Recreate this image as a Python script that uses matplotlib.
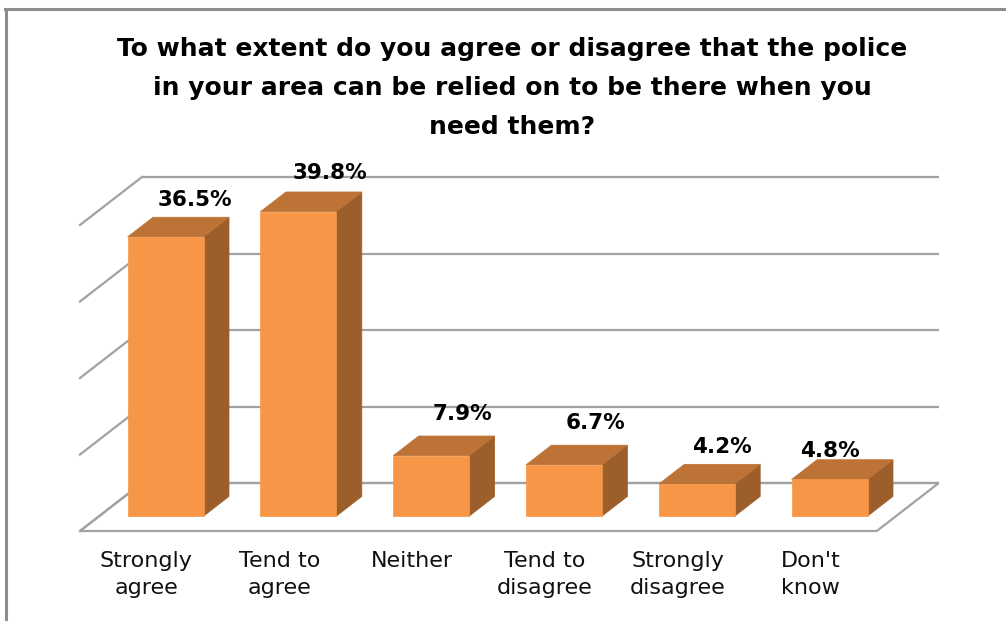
import matplotlib
matplotlib.use("Agg")
import matplotlib.pyplot as plt
from matplotlib.patches import Polygon
from matplotlib.lines import Line2D

# ---------------- data ----------------
categories = ["Strongly\nagree", "Tend to\nagree", "Neither",
              "Tend to\ndisagree", "Strongly\ndisagree", "Don't\nknow"]
values = [36.5, 39.8, 7.9, 6.7, 4.2, 4.8]
value_labels = ["36.5%", "39.8%", "7.9%", "6.7%", "4.2%", "4.8%"]
y_ticks = [0, 10, 20, 30, 40]
title = ("To what extent do you agree or disagree that the police\n"
         "in your area can be relied on to be there when you\n"
         "need them?")

# ---------------- layout ----------------
W, H = 1006, 621
PX_PER_CAT = 132.8      # horizontal pixels per category slot
PX_PER_PCT = 7.65       # vertical pixels per percentage point
X0_PX, Y0_PX = 80, 531  # front-left corner of floor (pixels from top-left)
DEPTH_DX_PX, DEPTH_DY_PX = 62, 48
BAR_W = 0.572
Z_FRONT, Z_BACK = 0.31, 0.72
# label nudges (px) relative to default spot above the bar's back-top edge
label_nudge = [(0, 0), (2, 1), (2, 5), (2, 5), (-4, 0), (-29, -9)]

FRONT_C = "#F79646"
TOP_C = "#BD7236"
SIDE_C = "#9C5E2B"
GRID_C = "#A2A2A2"

fig = plt.figure(figsize=(W / 100, H / 100), dpi=100)
ax = fig.add_axes([0, 0, 1, 1])
ax.set_xlim(-0.5 - X0_PX / PX_PER_CAT, -0.5 + (W - X0_PX) / PX_PER_CAT)
ax.set_ylim((Y0_PX - H) / PX_PER_PCT, Y0_PX / PX_PER_PCT)
ax.axis("off")

DX = DEPTH_DX_PX / PX_PER_CAT
DY = DEPTH_DY_PX / PX_PER_PCT
n = len(categories)
xmin, xmax = -0.5, n - 0.5


def proj(x, y, z):
    return (x + z * DX, y + z * DY)


# gridlines: back wall and left wall
for t in y_ticks:
    p0, p1 = proj(xmin, t, 1), proj(xmax, t, 1)
    ax.plot([p0[0], p1[0]], [p0[1], p1[1]], color=GRID_C, lw=1.6, zorder=1,
            solid_capstyle="butt")
    q0, q1 = proj(xmin, t, 0), proj(xmin, t, 1)
    ax.plot([q0[0], q1[0]], [q0[1], q1[1]], color=GRID_C, lw=1.6, zorder=1)

# floor outline
floor = [proj(xmin, 0, 0), proj(xmax, 0, 0), proj(xmax, 0, 1), proj(xmin, 0, 1)]
ax.add_patch(Polygon(floor, closed=True, fill=False, edgecolor=GRID_C, lw=1.6,
                     zorder=1))

# bars
for i, v in enumerate(values):
    xl, xr = i - BAR_W / 2, i + BAR_W / 2
    front = [proj(xl, 0, Z_FRONT), proj(xr, 0, Z_FRONT),
             proj(xr, v, Z_FRONT), proj(xl, v, Z_FRONT)]
    top = [proj(xl, v, Z_FRONT), proj(xr, v, Z_FRONT),
           proj(xr, v, Z_BACK), proj(xl, v, Z_BACK)]
    side = [proj(xr, 0, Z_FRONT), proj(xr, 0, Z_BACK),
            proj(xr, v, Z_BACK), proj(xr, v, Z_FRONT)]
    ax.add_patch(Polygon(side, closed=True, facecolor=SIDE_C, edgecolor=SIDE_C,
                         lw=0.5, zorder=3))
    ax.add_patch(Polygon(top, closed=True, facecolor=TOP_C, edgecolor=TOP_C,
                         lw=0.5, zorder=3))
    ax.add_patch(Polygon(front, closed=True, facecolor=FRONT_C,
                         edgecolor=FRONT_C, lw=0.5, zorder=4))
    # value label
    bx, by = proj(i, v, Z_BACK)
    ndx, ndy = label_nudge[i]
    ax.annotate(value_labels[i], xy=(bx, by),
                xytext=((4 + ndx) * 0.72, (17.5 + ndy) * 0.72),
                textcoords="offset points", ha="center", va="center",
                fontsize=15.5, fontweight="bold", color="black", zorder=6)

# category labels
for i, c in enumerate(categories):
    ax.text(i, (Y0_PX - 551) / PX_PER_PCT, c, ha="center", va="top",
            fontsize=16, color="#111111", linespacing=1.43, zorder=6)

# title
fig.text(512 / W, 1 - 88 / H, title, ha="center", va="center",
         fontsize=18, fontweight="bold", linespacing=1.8)

# outer frame (top and left edges visible)
fig.add_artist(Line2D([5 / W, 1], [1 - 9 / H, 1 - 9 / H], color="#8C8C8C",
                      lw=2.2, transform=fig.transFigure))
fig.add_artist(Line2D([6 / W, 6 / W], [0, 1 - 9 / H], color="#8C8C8C",
                      lw=2.2, transform=fig.transFigure))

fig.savefig("out.png", dpi=100)
